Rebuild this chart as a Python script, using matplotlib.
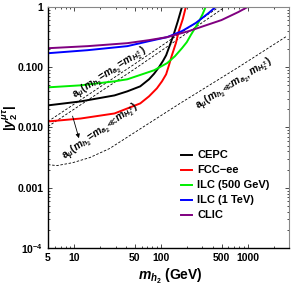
import matplotlib
matplotlib.use('Agg')
import matplotlib.pyplot as plt

plt.rcParams['font.family'] = ['Liberation Sans', 'DejaVu Sans']
plt.rcParams['font.weight'] = 'bold'
plt.rcParams['mathtext.fontset'] = 'custom'
plt.rcParams['mathtext.rm'] = 'Liberation Sans:bold'
plt.rcParams['mathtext.it'] = 'Liberation Sans:italic:bold'
plt.rcParams['mathtext.bf'] = 'Liberation Sans:bold'
plt.rcParams['mathtext.fallback'] = 'stix'

# collider sensitivity curves (m_h2 in GeV, |y2^{mu tau}|)
cepc_m = [5, 11.9, 29.2, 41, 57.8, 73, 83.5, 95, 106, 115, 127, 141, 157, 175]
cepc_y = [0.0233, 0.0271, 0.0341, 0.0398, 0.0482, 0.0631, 0.078, 0.100, 0.128,
          0.158, 0.233, 0.355, 0.584, 1.0]
fcc_m = [5, 11.9, 29.2, 41, 57.8, 73, 90, 103, 115, 124, 134, 149, 161, 179, 194]
fcc_y = [0.0126, 0.0141, 0.0171, 0.0207, 0.0251, 0.0329, 0.0447, 0.0584, 0.0764,
         0.108, 0.158, 0.251, 0.398, 0.631, 1.0]
ilc500_m = [5, 11.9, 29.2, 41, 56.3, 83.5, 118, 145, 175, 199, 221, 273, 303, 328]
ilc500_y = [0.0464, 0.0501, 0.0584, 0.0631, 0.0736, 0.0891, 0.117, 0.152, 0.207,
            0.261, 0.341, 0.562, 0.764, 1.0]
ilc1_m = [5, 14.3, 41, 73, 118, 175, 252, 355, 427]
ilc1_y = [0.171, 0.192, 0.224, 0.271, 0.316, 0.398, 0.541, 0.794, 1.0]
clic_m = [5, 14.3, 41, 73, 118, 210, 311, 500, 782, 1000]
clic_y = [0.207, 0.224, 0.251, 0.282, 0.316, 0.398, 0.482, 0.607, 0.825, 1.0]

# g-2 bands
amu_eq_a_m = [5, 49.3, 487]
amu_eq_a_y = [0.0126, 0.112, 1.04]
amu_eq_b_m = [5, 49.3, 570]
amu_eq_b_y = [0.0104, 0.0926, 1.04]
amu_light_m = [5, 6.34, 9.66, 15.1, 25.6, 56.3, 166, 782, 2840]
amu_light_y = [0.00242, 0.00233, 0.00261, 0.00316, 0.00447, 0.00926, 0.0251, 0.1, 0.329]

xticks = [5, 10, 50, 100, 500, 1000]
yticks = [1e-4, 1e-3, 1e-2, 1e-1, 1]
ylabels = [r'$10^{-4}$', '0.001', '0.010', '0.100', '1']

fig = plt.figure(figsize=(2.94, 2.87), dpi=100)
ax = fig.add_axes([0.1633, 0.1359, 0.8197, 0.8397])

dash = (0, (3, 2))
ax.plot(amu_eq_a_m, amu_eq_a_y, color='black', ls=dash, lw=0.6)
ax.plot(amu_eq_b_m, amu_eq_b_y, color='black', ls=dash, lw=0.6)
ax.plot(amu_light_m, amu_light_y, color='black', ls=dash, lw=0.6)

ax.plot(cepc_m, cepc_y, color='black', lw=1.4, label='CEPC')
ax.plot(fcc_m, fcc_y, color='red', lw=1.4, label='FCC\u2212ee')
ax.plot(ilc500_m, ilc500_y, color='#00ee00', lw=1.4, label='ILC (500 GeV)')
ax.plot(ilc1_m, ilc1_y, color='blue', lw=1.4, label='ILC (1 TeV)')
ax.plot(clic_m, clic_y, color='#800080', lw=1.4, label='CLIC')

ax.set_xscale('log')
ax.set_yscale('log')
ax.set_xlim(5, 3000)
ax.set_ylim(1e-4, 1)
ax.set_xticks(xticks)
ax.set_xticklabels([str(t) for t in xticks])
ax.set_yticks(yticks)
ax.set_yticklabels(ylabels)
ax.tick_params(which='both', direction='in', top=True, right=True, labelsize=7.5, width=0.5)
ax.tick_params(which='major', length=3)
ax.tick_params(which='minor', length=1.5)
for s in ['top', 'right']:
    ax.spines[s].set_color('#888888')
for s in ['left', 'bottom']:
    ax.spines[s].set_linewidth(1.0)

ax.annotate('', xy=(11.6, 0.006), xytext=(9.4, 0.0171),
            arrowprops=dict(arrowstyle='-|>', lw=0.6, color='black', mutation_scale=6))

ax.text(25.6, 0.0794, r'$\mathrm{a}_\mu(m_{h_2}\!=\!m_{a_2}\!=\!m_{H_2^\pm})$',
        rotation=33, rotation_mode='anchor', ha='center', va='center', fontsize=7.5)
ax.text(20.2, 0.00858, r'$\mathrm{a}_\mu(m_{h_2}\!=\!m_{a_2}\!\ll\!m_{H_2^\pm})$',
        rotation=35, rotation_mode='anchor', ha='center', va='center', fontsize=7.5)
ax.text(700, 0.054, r'$\mathrm{a}_\mu(m_{h_2}\!\ll\!m_{a_2},m_{H_2^\pm})$',
        rotation=32, rotation_mode='anchor', ha='center', va='center', fontsize=7.5)

ax.legend(loc='upper left', bbox_to_anchor=(0.55, 0.405), frameon=False, fontsize=8,
          handlelength=1.0, handletextpad=0.5, labelspacing=0.45, borderpad=0, borderaxespad=0)

fig.text(0.578, 0.035, r'$m_{h_2}$ (GeV)', ha='center', va='center', fontsize=10)
fig.text(0.036, 0.59, r'$|y_2^{\mu\tau}|$', ha='center', va='center', rotation=90, fontsize=9.5)

fig.savefig('out.png', dpi=100)
